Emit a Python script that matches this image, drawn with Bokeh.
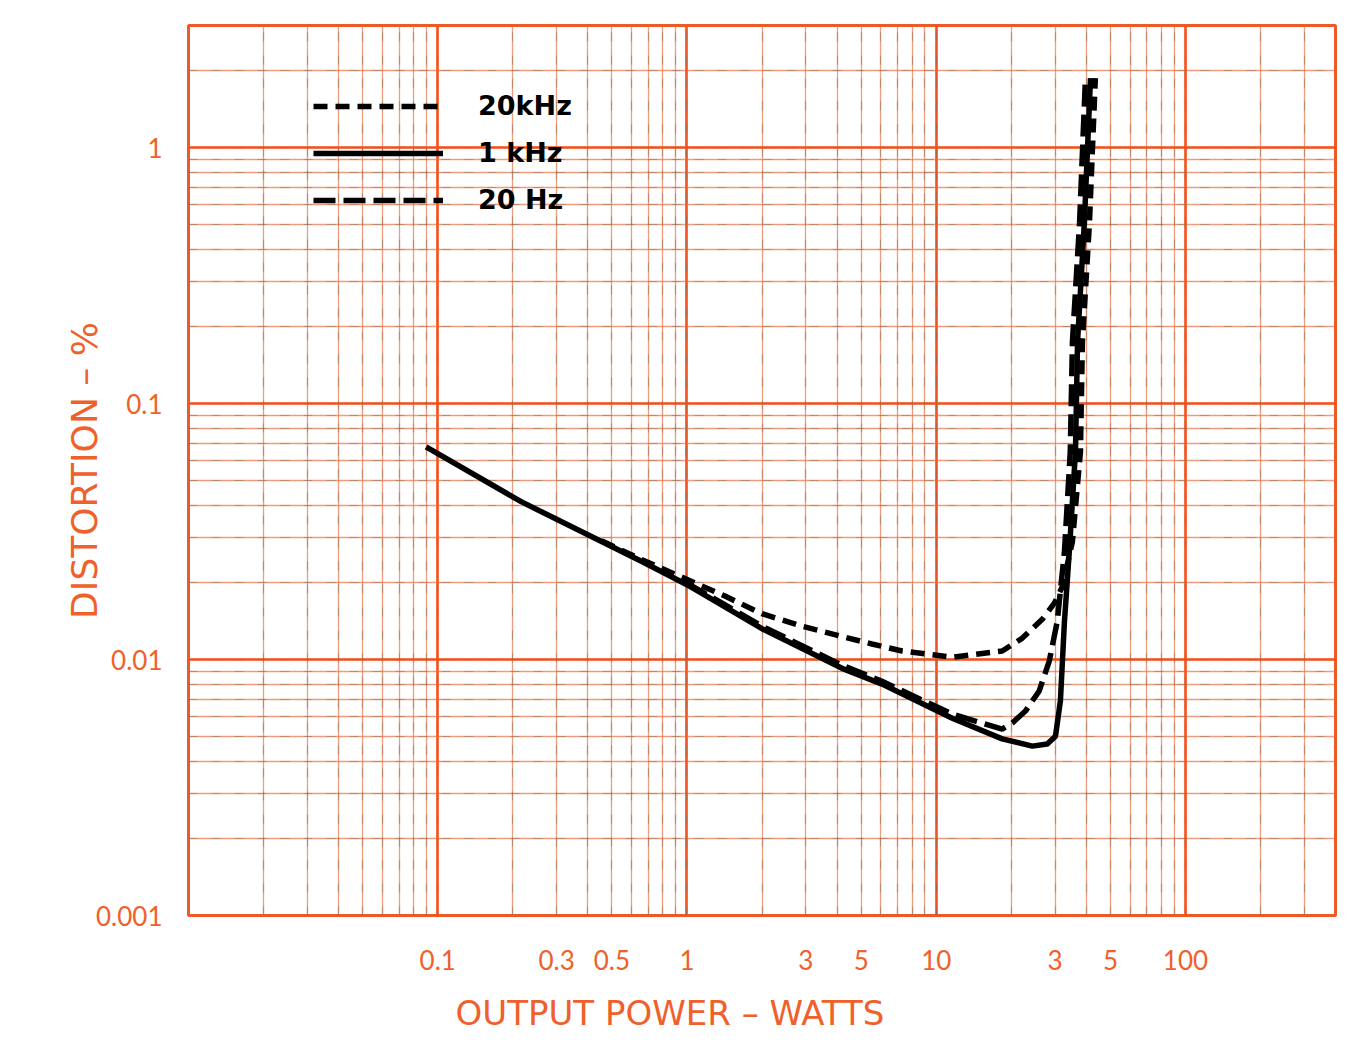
from bokeh.plotting import figure
from bokeh.models import Range1d, FixedTicker, LogTicker, Grid, Legend, LegendItem, Title
from bokeh.embed import file_html
from bokeh.resources import INLINE

# ---- data (output power W, distortion %) ----
power_1k = [0.0898, 0.216, 0.454, 0.656, 1.0, 2.0, 4.19, 6.06, 11.6, 18.4, 24.3, 27.9,
            30.1, 31.5, 32.7, 34.2, 36.2, 36.9, 39.3, 41.6]
dist_1k = [0.0678, 0.0414, 0.0289, 0.0242, 0.0196, 0.0132, 0.00924, 0.00802, 0.0059,
           0.0049, 0.00459, 0.00468, 0.00502, 0.00689, 0.0141, 0.0264, 0.0647, 0.174,
           0.509, 1.87]

power_20k = [0.454, 0.656, 1.42, 2.0, 2.89, 4.19, 5.52, 7.29, 11.6, 18.4, 22.1, 26.7,
             29.8, 32.1, 35.2, 37.9, 38.6, 41.2, 43.5]
dist_20k = [0.0291, 0.0246, 0.0177, 0.0151, 0.0135, 0.0123, 0.0115, 0.0108, 0.0102,
            0.0108, 0.0121, 0.0144, 0.0166, 0.0193, 0.0289, 0.0647, 0.174, 0.509, 1.87]

power_20 = [1.0, 2.0, 4.19, 6.06, 11.6, 18.4, 20.2, 22.8, 25.9, 28.4, 30.6, 32.7,
            34.5, 35.2, 37.6, 39.7]
dist_20 = [0.0199, 0.0135, 0.0095, 0.00822, 0.00612, 0.00535, 0.00565, 0.00629,
           0.00754, 0.00984, 0.0141, 0.0264, 0.0647, 0.174, 0.509, 1.87]

x_ticks = [0.1, 0.3, 0.5, 1, 3, 5, 10, 30, 50, 100]
x_labels = ["0.1", "0.3", "0.5", "1", "3", "5", "10", "3", "5", "100"]
y_ticks = [0.001, 0.01, 0.1, 1]
y_labels = ["0.001", "0.01", "0.1", "1"]

series_labels = ["20kHz", "1 kHz", "20 Hz"]

ORANGE = "#f0602a"

p = figure(width=1352, height=1051, x_axis_type="log", y_axis_type="log",
           x_range=Range1d(0.01, 400), y_range=Range1d(0.001, 3),
           output_backend="svg", toolbar_location=None,
           min_border_left=188, min_border_right=17, min_border_top=25,
           min_border_bottom=136, background_fill_color="white",
           border_fill_color="white")

p.outline_line_color = "#ee5a26"
p.outline_line_width = 3

# grids: log paper look
for g in (p.xgrid, p.ygrid):
    g.ticker = LogTicker(num_minor_ticks=10)
    g.grid_line_color = "#f5521c"
    g.grid_line_width = 2.6
    g.minor_grid_line_color = "#e66a38"
    g.minor_grid_line_alpha = 0.65
    g.minor_grid_line_width = 1.3

for dim in (0, 1):
    g2 = Grid(dimension=dim, ticker=LogTicker(num_minor_ticks=10),
              grid_line_color=None, minor_grid_line_color="#7a6e60",
              minor_grid_line_alpha=0.45, minor_grid_line_width=1.2,
              minor_grid_line_dash="9 14")
    p.add_layout(g2, "center")

# axes
p.xaxis.ticker = FixedTicker(ticks=x_ticks)
p.xaxis.major_label_overrides = {t: l for t, l in zip(x_ticks, x_labels)}
p.yaxis.ticker = FixedTicker(ticks=y_ticks)
p.yaxis.major_label_overrides = {t: l for t, l in zip(y_ticks, y_labels)}
for ax in (p.xaxis, p.yaxis):
    ax.axis_line_color = None
    ax.major_tick_line_color = None
    ax.minor_tick_line_color = None
    ax.major_label_text_color = ORANGE
    ax.major_label_text_font = "Lato"
    ax.major_label_text_font_size = "26px"
p.xaxis.major_label_standoff = 28
p.yaxis.major_label_standoff = 20

p.yaxis.axis_label = "DISTORTION – %"
p.yaxis.axis_label_text_font = "DejaVu Sans"
p.yaxis.axis_label_text_font_size = "36px"
p.yaxis.axis_label_text_font_style = "normal"
p.yaxis.axis_label_text_color = ORANGE
p.yaxis.axis_label_standoff = -12

x_title = Title(text="OUTPUT  POWER – WATTS", align="left", offset=267, standoff=36,
                text_font="DejaVu Sans", text_font_size="34px",
                text_font_style="normal", text_color=ORANGE)
p.add_layout(x_title, "below")

# curves
r20k = p.line(power_20k, dist_20k, line_color="black", line_width=5.5,
              line_dash="14 8", line_cap="butt")
r20 = p.line(power_20, dist_20, line_color="black", line_width=5.5,
             line_dash="22 8", line_cap="butt")
r1k = p.line(power_1k, dist_1k, line_color="black", line_width=5.5, line_join="round")

legend = Legend(items=[LegendItem(label=series_labels[0], renderers=[r20k]),
                       LegendItem(label=series_labels[1], renderers=[r1k]),
                       LegendItem(label=series_labels[2], renderers=[r20])],
                location=(125, 700), glyph_width=130, glyph_height=20,
                label_height=20, spacing=16, padding=0, margin=0,
                label_standoff=35, border_line_color=None,
                background_fill_alpha=0, label_text_font="DejaVu Sans",
                label_text_font_style="bold", label_text_font_size="27px",
                label_text_color="black")
p.add_layout(legend)

open("out.html", "w").write(file_html(p, INLINE))
